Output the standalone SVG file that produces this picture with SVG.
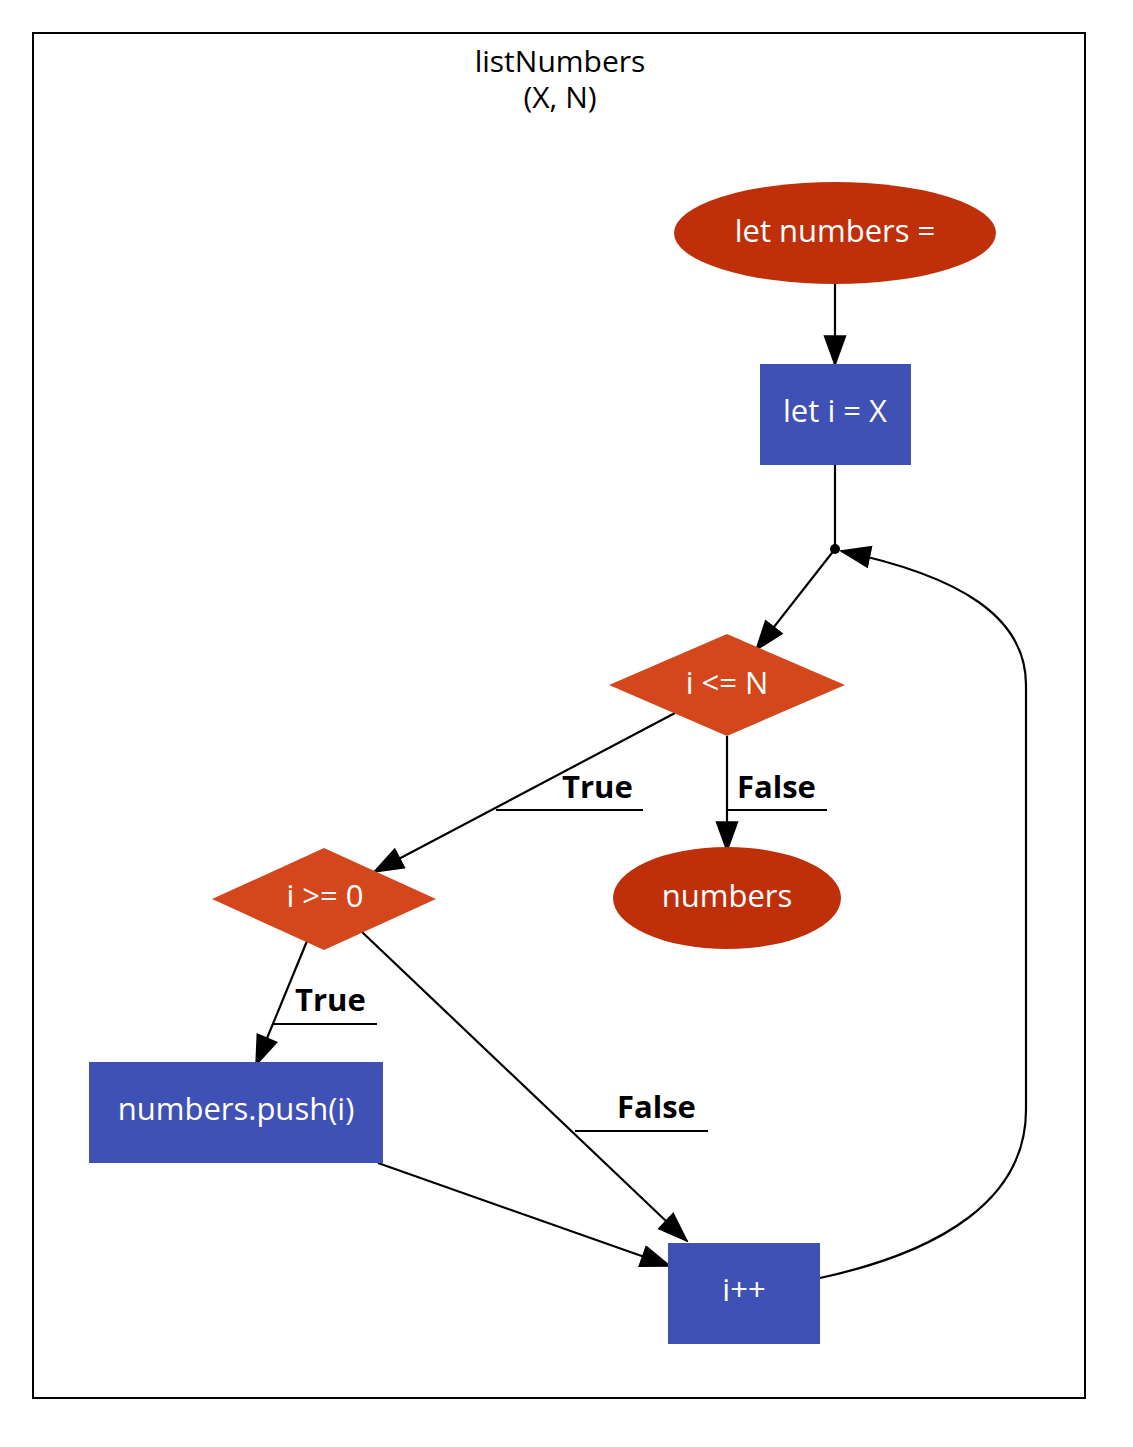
<svg xmlns="http://www.w3.org/2000/svg" width="1133" height="1447" viewBox="0 0 1133 1447">
  <style>
    .title { font-family: "Open Sans", "DejaVu Sans", sans-serif; font-size: 30px; fill: #000; text-anchor: middle; }
    .lbl { font-family: "Open Sans", "DejaVu Sans", sans-serif; font-size: 31px; fill: #fff; text-anchor: middle; }
    .elbl { font-family: "Open Sans", "DejaVu Sans", sans-serif; font-size: 31px; font-weight: 700; fill: #000; }
    .term { fill: #bf300a; }
    .stmt { fill: #3f51b5; }
    .cond { fill: #d4471d; }
    .edge { fill: none; stroke: #000; stroke-width: 2.2; }
    .deco { fill: none; stroke: #000; stroke-width: 2.2; }
  </style>
  <defs>
    <marker id="arrow" markerUnits="userSpaceOnUse" markerWidth="32" markerHeight="26" refX="30" refY="11.5" orient="auto">
      <path d="M1,1 L30,11.5 L1,22 Z" fill="#000" stroke="#000" stroke-width="1.5"/>
    </marker>
  </defs>

  <rect width="1133" height="1447" fill="#fff"/>

  <!-- function cluster -->
  <g id="cluster_listNumbers">
    <rect x="33" y="33" width="1052" height="1365" fill="none" stroke="#000" stroke-width="2"/>
    <text class="title" x="560" y="72">listNumbers</text>
    <text class="title" x="560" y="108">(X, N)</text>
  </g>

  <!-- connectors -->
  <g id="edges">
    <path class="edge" d="M835,284 L835,365" marker-end="url(#arrow)"/>
    <path class="edge" d="M835,465 L835,549"/>
    <path class="edge" d="M835,549 L756,650" marker-end="url(#arrow)"/>

    <path class="edge" d="M675,713 L374,872" marker-end="url(#arrow)"/>
    <polyline class="deco" points="496,810 643,810"/>
    <text class="elbl" x="562" y="798">True</text>

    <path class="edge" d="M727,736 L727,851" marker-end="url(#arrow)"/>
    <polyline class="deco" points="727,810 827,810"/>
    <text class="elbl" x="737" y="798">False</text>

    <path class="edge" d="M307,941 L256,1065" marker-end="url(#arrow)"/>
    <polyline class="deco" points="273,1024 377,1024"/>
    <text class="elbl" x="295" y="1011">True</text>

    <path class="edge" d="M362,932 L687,1241" marker-end="url(#arrow)"/>
    <polyline class="deco" points="575,1131 708,1131"/>
    <text class="elbl" x="617" y="1118">False</text>

    <path class="edge" d="M378,1163 L670,1266" marker-end="url(#arrow)"/>

    <path class="edge" d="M820,1278 C940,1252 1026,1200 1026,1110 L1026,685 C1026,618 962,576 841,551" marker-end="url(#arrow)"/>
  </g>

  <!-- nodes -->
  <g id="node_init">
    <ellipse class="term" cx="835" cy="233" rx="161" ry="51"/>
    <text class="lbl" x="835" y="242">let numbers =</text>
  </g>
  <g id="node_let_i">
    <rect class="stmt" x="760" y="364" width="151" height="101"/>
    <text class="lbl" x="835" y="422">let i = X</text>
  </g>
  <g id="node_loop">
    <circle cx="835" cy="549" r="5" fill="#000"/>
  </g>
  <g id="node_cond_n">
    <polygon class="cond" points="727,634 845,685 727,736 609,685"/>
    <text class="lbl" x="727" y="694">i &lt;= N</text>
  </g>
  <g id="node_cond_0">
    <polygon class="cond" points="324,848 436,899 324,950 212,899"/>
    <text class="lbl" x="325" y="907">i &gt;= 0</text>
  </g>
  <g id="node_return">
    <ellipse class="term" cx="727" cy="898" rx="114" ry="51"/>
    <text class="lbl" x="727" y="907">numbers</text>
  </g>
  <g id="node_push">
    <rect class="stmt" x="89" y="1062" width="294" height="101"/>
    <text class="lbl" x="236" y="1120">numbers.push(i)</text>
  </g>
  <g id="node_incr">
    <rect class="stmt" x="668" y="1243" width="152" height="101"/>
    <text class="lbl" x="744" y="1301">i++</text>
  </g>
</svg>
